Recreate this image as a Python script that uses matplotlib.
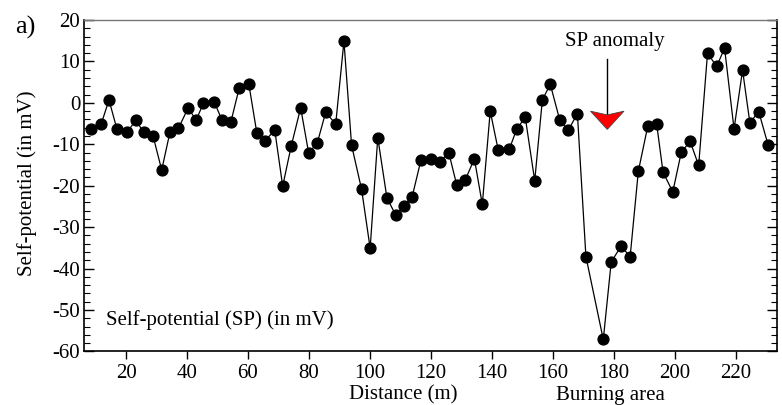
import matplotlib
matplotlib.use("Agg")
import matplotlib.pyplot as plt
from matplotlib.patches import Polygon
from matplotlib.ticker import MultipleLocator

# distance along profile (m) and measured self-potential (mV)
distance = [8.5, 11.8, 14.4, 17.0, 20.3, 23.2, 25.8, 28.9, 31.7, 34.4,
            37.2, 40.4, 43.0, 45.4, 48.9, 51.5, 54.4, 57.1, 60.3, 62.9,
            65.5, 68.8, 71.4, 74.2, 77.3, 79.9, 82.7, 85.5, 88.8, 91.5,
            94.0, 97.3, 100.1, 102.6, 105.6, 108.5, 111.3, 113.9, 116.8, 120.0,
            123.0, 125.9, 128.5, 131.3, 134.3, 136.9, 139.5, 142.1, 145.8, 148.2,
            151.0, 154.1, 156.6, 159.2, 162.3, 165.1, 168.1, 170.9, 176.6, 179.2,
            182.5, 185.4, 188.1, 191.2, 194.1, 196.2, 199.4, 202.2, 205.1, 207.9,
            210.8, 213.8, 216.4, 219.5, 222.3, 224.7, 227.6, 230.7]
sp = [-6.2, -5.2, 0.7, -6.3, -7.1, -4.2, -7.1, -8.1, -16.2, -7.1,
      -6.1, -1.2, -4.2, 0.0, 0.3, -4.2, -4.6, 3.5, 4.5, -7.2,
      -9.2, -6.6, -20.1, -10.4, -1.2, -12.0, -9.8, -2.3, -5.1, 14.9,
      -10.2, -20.9, -35.1, -8.4, -22.9, -27.1, -24.8, -22.6, -13.7, -13.5,
      -14.2, -12.0, -19.8, -18.6, -13.5, -24.5, -2.0, -11.3, -11.1, -6.3,
      -3.5, -18.8, 0.7, 4.5, -4.1, -6.6, -2.6, -37.1, -57.1, -38.4,
      -34.5, -37.2, -16.5, -5.6, -5.0, -16.7, -21.5, -11.9, -9.3, -15.1,
      12.0, 8.8, 13.2, -6.3, 7.9, -4.8, -2.1, -10.2]

anomaly_x = 177.9
x_ticks = [20, 40, 60, 80, 100, 120, 140, 160, 180, 200, 220]
y_ticks = [-60, -50, -40, -30, -20, -10, 0, 10, 20]

plt.rcParams["font.family"] = ["Liberation Serif", "DejaVu Serif"]
plt.rcParams["axes.unicode_minus"] = False

fig = plt.figure(figsize=(7.82, 4.05), dpi=100)
ax = fig.add_axes([0.1078, 0.1321, 0.8858, 0.8185])

ax.plot(distance, sp, color="black", lw=0.9, marker="o", ms=7.8,
        mfc="black", mec="black")

ax.set_xlim(6.3, 233.6)
ax.set_ylim(-60, 20)
ax.set_xticks(x_ticks)
ax.set_yticks(y_ticks)
ax.yaxis.set_minor_locator(MultipleLocator(2))

ax.tick_params(axis="x", direction="out", length=6, width=1, labelsize=15, pad=3)
ax.tick_params(axis="y", which="major", direction="in", length=7, width=1,
               labelsize=15, pad=3, right=True)
ax.tick_params(axis="y", which="minor", direction="in", length=4.5, width=0.8, right=True)

for side in ["left", "right", "bottom"]:
    ax.spines[side].set_linewidth(1.2)
ax.spines["top"].set_color("#777777")
ax.spines["top"].set_linewidth(1.0)

# anomaly marker: vertical arrow with a red notched head
ax.plot([anomaly_x, anomaly_x], [10.6, -2.9], color="black", lw=1.0)
head = Polygon([(anomaly_x - 5.5, -2.0), (anomaly_x, -2.9),
                (anomaly_x + 5.5, -2.0), (anomaly_x, -6.4)],
               closed=True, facecolor="red", edgecolor="#444444", lw=0.6, zorder=5)
ax.add_patch(head)
ax.text(180.3, 14.8, "SP anomaly", ha="center", va="center", fontsize=15)

ax.text(13.4, -52.5, "Self-potential (SP) (in mV)", ha="left", va="center",
        fontsize=15)

fig.text(25 / 782, 1 - 27 / 405, "a)", ha="center", va="center", fontsize=19)
fig.text(27 / 782, 1 - 183 / 405, "Self-potential (in mV)", rotation=90,
         ha="center", va="center", fontsize=15)
fig.text(403 / 782, 1 - 399 / 405, "Distance (m)", ha="center", va="baseline",
         fontsize=15)
fig.text(610 / 782, 1 - 400 / 405, "Burning area", ha="center", va="baseline",
         fontsize=15)

fig.savefig("out.png", dpi=100)
